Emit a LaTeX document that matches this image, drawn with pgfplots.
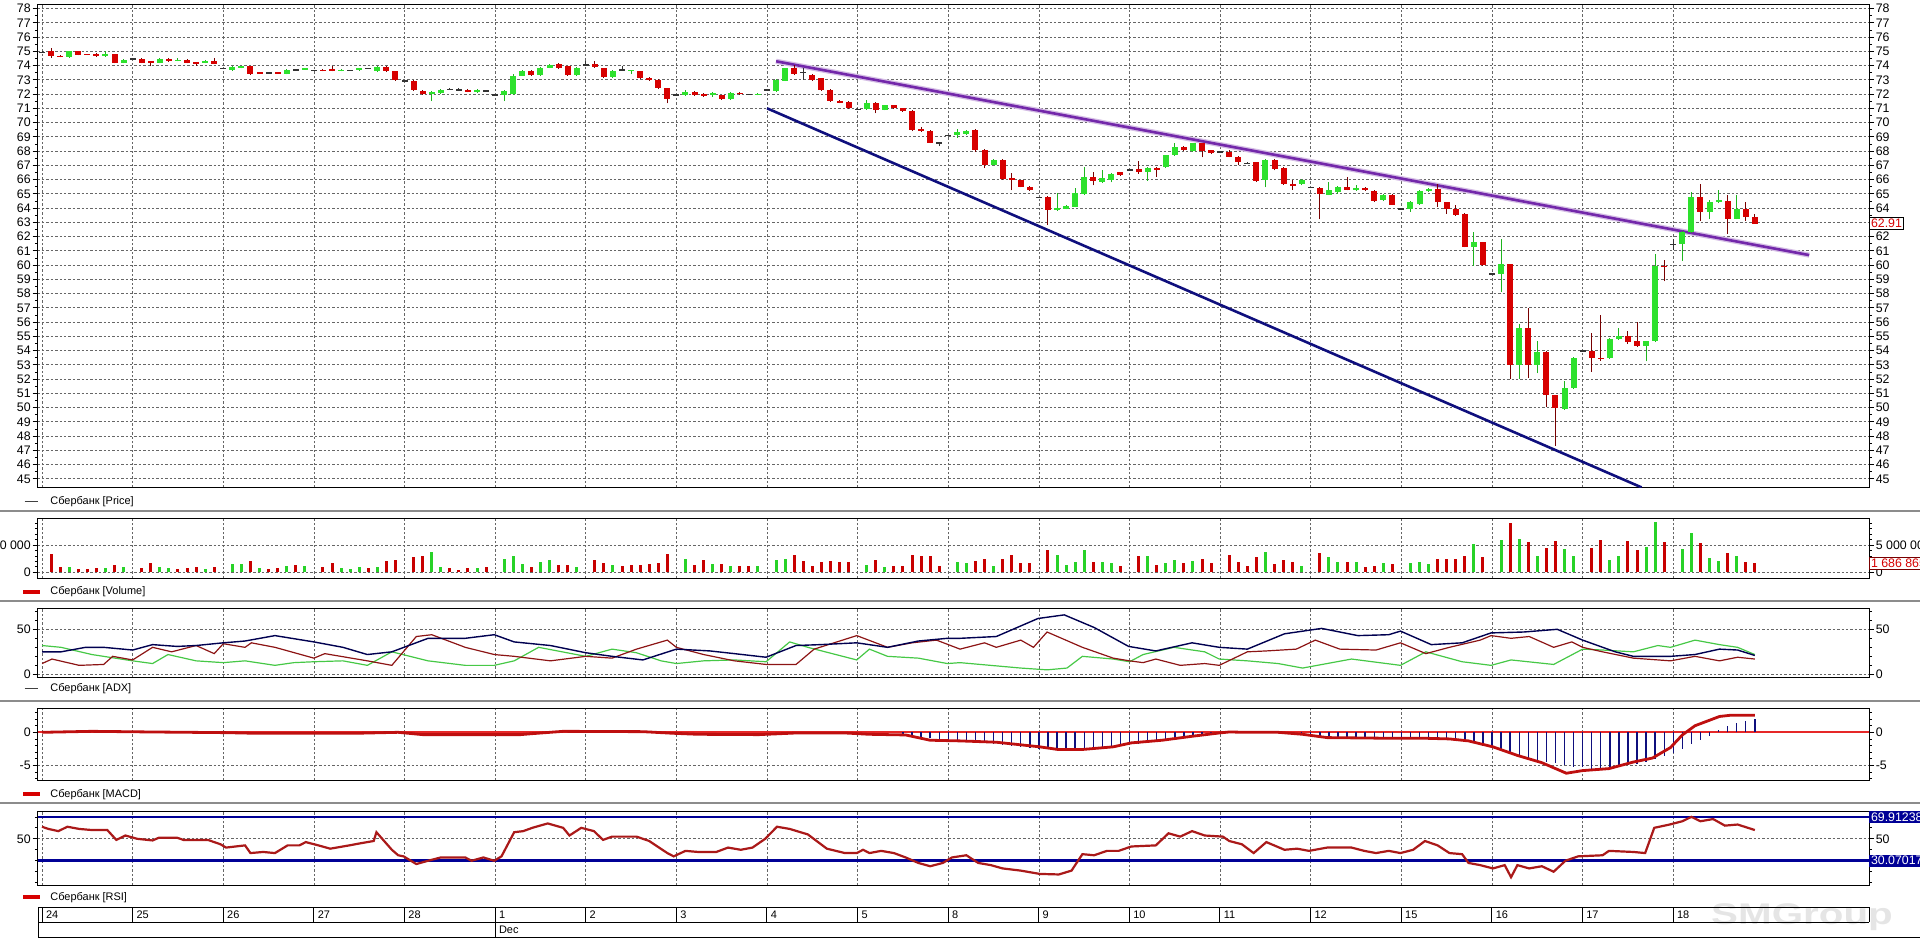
\documentclass[border=0pt]{standalone}
\usepackage{fontspec}
\setmainfont{Liberation Sans}
\usepackage{pgfplots}
\usepackage{pgfplotstable}
\pgfplotsset{compat=1.18}

\definecolor{cup}{RGB}{45,225,45}
\definecolor{cupw}{RGB}{30,180,30}
\definecolor{cdn}{RGB}{215,0,0}
\definecolor{cdnw}{RGB}{120,0,0}
\definecolor{navyl}{RGB}{15,15,125}
\definecolor{purp}{RGB}{115,40,170}
\definecolor{adxb}{RGB}{0,0,80}
\definecolor{adxr}{RGB}{140,20,20}
\definecolor{adxg}{RGB}{70,200,70}
\definecolor{macdr}{RGB}{190,15,15}
\definecolor{zeror}{RGB}{230,40,40}
\definecolor{rsir}{RGB}{170,25,25}
\definecolor{rsib}{RGB}{0,0,150}
\definecolor{vred}{RGB}{200,0,0}
\definecolor{vgrn}{RGB}{40,210,40}

\newcommand\tickfont{\fontsize{6.2}{7}\selectfont}
\newcommand\labfont{\fontsize{5.5}{6.5}\selectfont}

\pgfplotstableread{
i o h l c
3 74.60 75.05 74.55 75.00
7 74.65 75.00 74.60 74.82
9 74.20 74.45 74.15 74.42
13 74.20 74.50 74.15 74.47
15 74.35 74.50 74.30 74.42
18 74.20 74.40 74.15 74.35
21 73.70 73.95 73.65 73.88
22 73.85 74.00 73.80 73.95
27 73.40 73.75 73.38 73.70
29 73.72 73.85 73.70 73.82
33 73.62 73.75 73.60 73.72
35 73.68 73.85 73.65 73.82
37 73.60 73.95 73.58 73.90
43 72.00 72.20 71.50 72.15
44 72.06 72.35 72.00 72.30
48 72.15 72.35 72.10 72.32
51 71.95 72.30 71.50 72.20
52 72.00 73.40 71.95 73.30
53 73.30 73.70 73.25 73.60
55 73.35 73.90 73.30 73.85
56 73.85 74.10 73.80 74.05
59 73.35 73.90 73.25 73.85
63 73.20 73.70 73.15 73.65
65 73.62 73.72 73.40 73.70
71 71.95 72.25 71.85 72.15
74 71.90 72.15 71.80 72.05
76 71.65 72.15 71.60 72.10
79 71.95 72.05 71.90 72.02
81 72.20 73.05 72.15 73.00
82 72.95 73.85 72.90 73.80
91 70.95 71.60 70.90 71.40
93 70.90 71.25 70.85 71.20
101 69.15 69.55 68.95 69.35
102 69.20 69.45 69.15 69.40
105 67.05 67.45 67.00 67.40
112 63.85 65.05 63.80 64.00
113 63.95 64.25 63.90 64.15
114 64.10 65.40 64.05 65.05
115 65.00 66.90 64.95 66.20
117 65.80 66.70 65.75 66.10
118 66.00 66.45 65.80 66.40
122 66.50 66.85 65.90 66.80
124 66.85 67.75 66.80 67.70
125 67.70 68.55 67.65 68.25
127 68.00 68.60 67.95 68.55
135 65.95 67.45 65.45 67.40
139 65.70 66.05 65.60 66.00
142 64.95 65.85 64.90 65.25
143 65.15 65.55 65.00 65.50
145 65.30 65.60 65.20 65.42
148 64.55 65.00 64.50 64.95
151 63.95 64.50 63.75 64.40
152 64.30 65.25 64.25 65.20
153 65.20 65.40 65.15 65.35
158 61.30 62.30 59.95 61.60
161 59.40 61.80 58.10 60.05
163 53.00 55.90 52.00 55.60
165 53.00 54.70 52.40 53.90
168 49.90 51.90 49.85 51.40
169 51.35 53.55 51.30 53.50
173 53.45 54.90 53.40 54.80
174 54.80 55.60 54.75 55.05
177 54.30 54.70 53.25 54.65
178 54.65 60.80 54.60 59.95
181 61.45 62.40 60.30 62.30
182 62.30 65.15 62.25 64.75
184 63.75 64.60 63.20 64.40
185 64.40 65.25 64.35 64.55
187 63.25 64.95 63.20 63.95
}\tup

\pgfplotstableread{
i o h l c
1 75.00 75.20 74.55 74.65
2 74.70 74.72 74.58 74.60
4 75.00 75.05 74.72 74.75
5 74.80 74.82 74.74 74.76
6 74.80 74.85 74.60 74.65
8 74.78 74.80 74.15 74.20
11 74.45 74.50 74.15 74.20
12 74.27 74.30 73.95 74.23
14 74.45 74.50 74.28 74.30
16 74.42 74.45 74.15 74.20
17 74.22 74.25 73.98 74.18
19 74.35 74.55 74.10 74.12
23 73.95 74.00 73.35 73.40
24 73.52 73.55 73.45 73.48
26 73.52 73.55 73.42 73.45
31 73.72 73.75 73.60 73.62
32 73.75 73.95 73.60 73.62
38 73.90 73.95 73.55 73.60
39 73.60 73.65 72.95 73.00
41 72.95 73.00 72.20 72.25
42 72.25 72.30 71.95 72.00
47 72.32 72.35 72.12 72.15
54 73.65 73.70 73.30 73.35
57 74.10 74.15 73.75 73.80
58 73.95 74.00 73.30 73.35
61 74.10 74.30 73.85 73.90
62 73.80 73.85 73.15 73.20
66 73.60 73.65 73.05 73.10
67 73.15 73.20 72.95 73.00
68 73.00 73.05 72.35 72.40
69 72.40 72.45 71.35 71.65
72 72.15 72.20 71.85 71.90
73 71.97 72.10 71.80 71.93
75 71.90 71.95 71.60 71.65
77 72.10 72.15 71.95 71.98
83 73.80 74.05 73.35 73.40
85 73.35 73.40 72.95 73.00
86 73.10 73.15 72.20 72.25
87 72.30 72.35 71.45 71.50
88 71.50 71.55 71.35 71.38
89 71.45 71.50 70.95 71.00
92 71.40 71.45 70.65 70.90
94 71.20 71.25 70.95 71.00
95 71.00 71.05 70.75 70.80
96 70.80 70.85 69.40 69.45
97 69.55 69.70 69.35 69.40
98 69.40 69.45 68.55 68.60
103 69.50 69.55 67.95 68.10
104 68.10 68.15 66.80 67.05
106 67.40 67.45 66.00 66.05
107 66.10 66.45 65.25 65.95
108 65.95 66.00 65.45 65.50
109 65.50 65.55 65.20 65.25
111 64.80 64.85 62.80 63.85
116 66.20 66.55 65.60 65.90
119 66.50 66.55 66.25 66.30
121 66.75 67.30 66.40 66.50
123 66.78 66.85 66.20 66.65
126 68.30 68.35 68.00 68.05
128 68.55 68.60 67.55 68.00
129 68.05 68.10 67.80 67.85
131 67.90 68.10 67.55 67.60
132 67.60 67.65 67.00 67.20
134 67.20 67.25 65.85 65.90
136 67.40 67.45 66.65 66.75
137 66.80 66.85 65.65 65.70
138 65.70 66.00 65.30 65.55
141 65.40 65.45 63.20 65.00
144 65.50 66.20 65.25 65.30
146 65.40 65.45 65.20 65.25
147 65.20 65.25 64.45 64.50
149 64.95 65.00 64.20 64.25
154 65.35 65.70 64.10 64.40
155 64.40 64.45 63.60 63.95
156 63.95 64.20 63.45 63.50
157 63.60 63.65 61.25 61.30
159 61.60 61.65 59.95 60.00
162 60.05 60.10 52.00 53.00
164 55.60 57.00 52.10 53.00
166 53.90 53.95 50.05 50.85
167 50.85 50.90 47.30 50.00
171 54.00 55.25 52.50 53.45
172 53.50 56.50 53.30 53.40
175 55.05 55.35 54.45 54.60
176 54.65 56.00 54.25 54.30
179 59.95 60.35 58.85 59.85
183 64.75 65.70 63.10 63.75
186 64.50 64.90 62.20 63.25
188 63.95 64.40 63.10 63.40
189 63.40 63.60 62.90 62.91
}\tdown

\pgfplotstableread{
i o h l c
0 74.95 75.00 74.90 74.95
10 74.47 74.52 74.42 74.47
20 73.80 73.85 73.75 73.80
25 73.50 73.55 73.45 73.50
28 73.70 73.75 73.65 73.70
30 73.67 73.72 73.62 73.67
34 73.68 73.72 73.64 73.68
36 73.82 73.86 73.78 73.82
40 72.95 73.00 72.90 72.95
45 72.35 72.40 72.30 72.35
46 72.30 72.40 72.20 72.30
49 72.25 72.30 72.20 72.25
50 71.95 72.00 71.90 71.95
60 74.05 74.30 74.00 74.05
64 73.70 74.00 73.65 73.70
70 71.95 72.00 71.90 71.95
78 71.98 72.02 71.94 71.98
80 72.30 72.35 72.25 72.30
84 73.55 73.80 73.00 73.55
90 70.95 71.00 70.90 70.95
99 68.60 68.65 68.35 68.60
100 69.10 69.15 69.05 69.10
110 64.75 64.80 64.70 64.75
120 66.70 66.75 66.65 66.70
130 67.95 68.00 67.90 67.95
133 67.15 67.20 67.10 67.15
140 65.45 65.50 65.40 65.45
150 63.95 64.00 63.90 63.95
160 59.40 59.45 59.35 59.40
170 54.00 54.05 53.95 54.00
180 61.45 61.85 61.05 61.45
}\tdoji

\pgfplotstableread{
i v
1 3.3
2 1.0
4 0.55
5 0.55
6 0.7
8 1.35
11 0.7
12 1.65
15 0.6
16 0.7
17 0.9
19 1.05
23 2.1
25 0.6
26 0.75
28 1.35
31 0.9
32 1.65
36 0.75
38 2.1
39 2.3
41 2.75
42 2.9
45 0.75
46 0.5
47 0.75
49 0.9
54 0.9
57 1.35
58 1.35
61 2.25
62 1.65
64 1.1
65 1.35
66 1.35
67 1.5
68 1.65
69 3.35
72 1.35
73 2.25
75 1.5
77 1.1
78 1.2
83 3.2
84 2.1
85 1.2
86 1.95
87 2.0
88 1.8
89 1.8
92 2.25
94 1.1
95 1.1
96 3.2
97 2.9
98 2.9
99 1.2
103 2.1
104 2.45
106 2.45
107 3.25
108 1.7
109 1.65
111 4.1
116 1.8
119 1.2
121 3.05
123 1.35
126 1.7
128 2.45
129 1.7
131 3.2
132 1.95
133 1.2
134 2.75
136 1.5
137 2.25
138 1.95
141 3.5
144 1.8
146 0.9
147 1.2
149 1.5
154 2.45
155 2.45
156 2.45
157 3.05
159 2.75
162 9.0
164 5.5
166 4.4
167 5.8
171 4.4
172 5.9
175 5.7
176 4.0
179 5.6
183 5.4
186 3.55
188 1.85
189 1.69
}\vdown

\pgfplotstableread{
i v
3 1.0
7 0.85
9 0.9
13 0.9
14 0.75
18 0.6
21 1.5
22 1.5
24 0.75
27 1.2
29 1.1
33 0.75
34 0.6
35 0.9
37 1.05
43 3.8
44 0.9
48 0.75
51 2.45
52 3.05
53 1.5
55 1.8
56 2.25
59 0.9
63 1.35
71 2.45
74 1.5
76 1.2
79 1.1
81 2.25
82 2.45
91 1.35
93 0.9
101 1.8
102 1.7
105 1.2
112 3.2
113 1.35
114 1.95
115 4.0
117 1.8
118 1.7
122 3.05
124 1.7
125 2.25
127 2.1
135 3.7
139 1.2
142 2.75
143 1.95
145 1.8
148 1.65
151 1.65
152 1.8
153 1.5
158 5.2
161 5.9
163 6.1
165 3.05
168 4.3
169 3.05
173 2.25
174 3.05
177 4.6
178 9.15
181 4.3
182 7.2
184 2.55
185 2.1
187 2.9
}\vup

\pgfplotstableread{
i h
95 -0.3
96 -0.5
97 -0.7
98 -0.9
99 -1.0
100 -1.1
101 -1.3
102 -1.4
103 -1.5
104 -1.6
105 -1.7
106 -1.9
107 -2.0
108 -2.2
109 -2.3
110 -2.5
111 -2.6
112 -2.7
113 -2.7
114 -2.6
115 -2.5
116 -2.4
117 -2.3
118 -2.2
119 -2.0
120 -1.8
121 -1.7
122 -1.5
123 -1.3
124 -1.2
125 -1.0
126 -0.8
127 -0.6
128 -0.5
129 -0.3
130 -0.2
131 0.1
132 0.05
139 -0.2
140 -0.35
141 -0.5
142 -0.6
143 -0.7
144 -0.8
145 -0.8
146 -0.8
147 -0.8
148 -0.8
149 -0.9
150 -0.9
151 -0.9
152 -0.9
153 -0.9
154 -0.9
155 -0.9
156 -1.0
157 -1.2
158 -1.6
159 -2.0
160 -2.3
161 -2.7
162 -3.2
163 -3.6
164 -4.0
165 -4.3
166 -4.5
167 -4.7
168 -4.9
169 -5.2
170 -5.3
171 -5.5
172 -5.6
173 -5.4
174 -5.2
175 -5.0
176 -4.8
177 -4.5
178 -4.1
179 -3.6
180 -3.2
181 -2.5
182 -1.8
183 -1.2
184 -0.5
185 0.3
186 1.0
187 1.4
188 1.7
189 2.0
}\thist

\pgfplotsset{
  /pgf/number format/assume math mode=true,
  panel/.style={
    scale only axis, width=915.75bp, xmin=-0.5, xmax=201.6,
    anchor=south west,
    axis line style={line width=0.5bp},
    xtick={0,10,...,180}, xticklabels={},
    every major x tick/.append style={draw=none},
    xmajorgrids, ymajorgrids,
    grid style={dash pattern=on 1.2bp off 1bp, black!60, line width=0.35bp},
    tick align=outside, ytick pos=left, xtick pos=left,
    major tick length=2.5bp, minor tick length=1.3bp,
    tick style={black, line width=0.35bp},
    yticklabel style={font=\tickfont, inner sep=0.7bp},
  },
  rightlab/.style={
    scale only axis, width=915.75bp, xmin=-0.5, xmax=201.6,
    anchor=south west,
    hide x axis, axis y line*=right, axis line style={draw=none},
    tick align=outside,
    major tick length=2.5bp, minor tick length=1.3bp,
    tick style={black, line width=0.35bp},
    yticklabel style={font=\tickfont, inner sep=0.7bp},
    clip=false,
  },
}

\begin{document}
\begin{tikzpicture}
\path[use as bounding box] (0,0) rectangle (960bp,470bp);

% watermark
\node[text=black!10, font=\fontsize{15}{15}\selectfont\bfseries, xscale=1.35] at (901bp,11.3bp) {SMGroup};

% separators
\foreach \yy in {214.5,169.5,119.5,68.5}{
  \draw[black!45, line width=1bp] (0,\yy bp) -- (960bp,\yy bp);
}

% ================= PRICE =================
\begin{axis}[panel, at={(18.75bp,226.3bp)}, height=241.2bp,
  ymin=44.4, ymax=78.25, ytick={45,...,78}, minor y tick num=1]
  \addplot[purp!30, line width=2.6bp] coordinates {(81,74.3) (195,60.7)};
  \addplot[purp, line width=1.3bp] coordinates {(81,74.3) (195,60.7)};
  \addplot[navyl, line width=1.3bp] coordinates {(80,71.0) (176.5,44.4)};
  % wicks
  \addplot[draw=none, mark=none, error bars/.cd, y dir=plus, y explicit, error mark=none,
    error bar style={draw=cdnw, line width=0.5bp}]
    table[x=i, y=l, y error expr=\thisrow{h}-\thisrow{l}] \tdown;
  \addplot[draw=none, mark=none, error bars/.cd, y dir=plus, y explicit, error mark=none,
    error bar style={draw=cupw, line width=0.5bp}]
    table[x=i, y=l, y error expr=\thisrow{h}-\thisrow{l}] \tup;
  \addplot[draw=none, mark=none, error bars/.cd, y dir=plus, y explicit, error mark=none,
    error bar style={draw=black!80, line width=0.5bp}]
    table[x=i, y=l, y error expr=\thisrow{h}-\thisrow{l}] \tdoji;
  % bodies
  \addplot[draw=none, mark=none, error bars/.cd, y dir=both, y explicit, error mark=none,
    error bar style={draw=cdn, line width=3bp}]
    table[x=i, y expr=(\thisrow{o}+\thisrow{c})/2, y error expr={max(abs(\thisrow{o}-\thisrow{c})/2,0.035)}] \tdown;
  \addplot[draw=none, mark=none, error bars/.cd, y dir=both, y explicit, error mark=none,
    error bar style={draw=cup, line width=3bp}]
    table[x=i, y expr=(\thisrow{o}+\thisrow{c})/2, y error expr={max(abs(\thisrow{o}-\thisrow{c})/2,0.035)}] \tup;
  \addplot[draw=none, mark=none, error bars/.cd, y dir=both, y explicit, error mark=none,
    error bar style={draw=black!80, line width=3bp}]
    table[x=i, y expr=(\thisrow{o}+\thisrow{c})/2, y error expr={0.03}] \tdoji;
\end{axis}
\begin{axis}[rightlab, at={(18.75bp,226.3bp)}, height=241.2bp,
  ymin=44.4, ymax=78.25, ytick={45,...,78}, minor y tick num=1]
  \node[anchor=west, draw=black, fill=white, text=cdn, font=\tickfont, inner sep=0.8bp, line width=0.4bp]
    at (axis cs:201.6,62.91) {62.91};
\end{axis}
\draw[black!75, line width=0.6bp] (12.25bp,219.15bp) -- (19bp,219.15bp);
\node[anchor=west, font=\labfont, inner sep=0] at (25bp,219.15bp) {Сбербанк [Price]};

% ================= VOLUME =================
\begin{axis}[panel, at={(18.75bp,180.85bp)}, height=30bp,
  ymin=-1.1, ymax=9.89, ytick={0,5}, yticklabels={0,5 000 000},
  minor ytick={1,2,3,4,6,7,8,9}]
  \addplot[ycomb, vred, line width=1.5bp, mark=none] table[x=i, y=v] \vdown;
  \addplot[ycomb, vgrn, line width=1.5bp, mark=none] table[x=i, y=v] \vup;
\end{axis}
\begin{axis}[rightlab, at={(18.75bp,180.85bp)}, height=30bp,
  ymin=-1.1, ymax=9.89, ytick={0,5}, yticklabels={0,5 000 000},
  minor ytick={1,2,3,4,6,7,8,9}]
  \node[anchor=west, draw=cdnw, fill=white, text=cdn, font=\tickfont, inner sep=0.8bp, line width=0.4bp]
    at (axis cs:201.6,1.686865) {1 686 865};
\end{axis}
\draw[cdn, line width=2bp] (11.6bp,174.15bp) -- (19.9bp,174.15bp);
\node[anchor=west, font=\labfont, inner sep=0] at (25bp,174.15bp) {Сбербанк [Volume]};

% ================= ADX =================
\begin{axis}[panel, at={(18.75bp,131.15bp)}, height=34.7bp,
  ymin=-3.7, ymax=73.3, ytick={0,50}, minor ytick={10,20,30,40,60,70}]
  \addplot[adxg, line width=0.6bp, mark=none] coordinates {
(0,32) (2.1,30) (5.5,22) (10,15) (12.2,12) (13.9,22) (17,15) (20,13) (22.4,15) (25.7,10) (27.8,13) (30,14) (33.2,15) (35.9,10) (38.6,25) (42.6,15) (46.7,10) (49.9,10) (52.1,15) (54.8,30) (60,20) (62.9,28) (65.6,24) (68.3,15) (70,12) (73,15) (76.4,16) (79.9,14) (82.5,36) (84.5,30) (89.9,16) (91.3,28) (93.3,20) (96.7,18) (99.9,12) (101.3,13) (108,7) (110.9,5) (113.1,7) (114.8,20) (118.2,17) (120,14) (121.5,22) (124.9,30) (128.3,25) (129.9,17) (133,15) (136.4,12) (139.1,7) (141.8,12) (144.5,17) (149.9,10) (152.7,25) (156.7,14) (159.9,10) (162.1,16) (166.8,11) (170,28) (172.2,27) (175.6,25) (178.3,32) (179.7,30) (182.4,38) (185.1,33) (187.1,30) (189,22)};
  \addplot[adxr, line width=0.6bp, mark=none] coordinates {
(0,12) (1.1,17) (4.1,10) (6.8,11) (7.8,20) (10,16) (12.2,30) (14.3,25) (17,32) (19,23) (20,34) (22.4,30) (23.1,35) (25.7,30) (30,18) (31.2,23) (35.9,15) (38.6,10) (41.3,42) (43,44) (46.7,30) (49.9,22) (52.1,20) (56.1,15) (60,20) (62.9,18) (65.6,28) (69,38) (70,30) (73,22) (76.4,15) (79.9,11) (83.2,11) (85.2,28) (89.9,43) (93.3,30) (96,35) (98.7,38) (101.3,28) (104,35) (105.3,30) (108,38) (109.4,30) (110.9,47) (114.8,30) (118.2,18) (120,15) (121.5,13) (122.9,17) (125.6,10) (128.3,12) (129.9,10) (133,25) (135.1,26) (138.4,28) (140.5,38) (143.2,28) (147.2,27) (149.9,35) (152.7,23) (155.3,30) (158.7,38) (159.9,43) (162.1,40) (164.1,42) (166.8,30) (168.8,36) (170,30) (172.2,25) (175.6,18) (179.7,15) (182.4,20) (185.1,15) (187.1,19) (189,17)};
  \addplot[adxb, line width=0.7bp, mark=none] coordinates {
(0,25) (2.1,25) (4.8,30) (6.8,30) (10,27) (12.2,33) (14.9,31) (17,32) (20,35) (22.4,37) (25.7,43) (30,36) (33.2,30) (35.9,22) (38.6,25) (42.6,40) (46.7,40) (49.9,44) (52.1,36) (56.1,32) (60,24) (62.9,20) (66.3,16) (70,28) (73.7,26) (76.4,23) (79.9,19) (83.2,32) (85.9,33) (89.9,35) (93.3,30) (96.7,37) (99.9,40) (101.3,40) (105.3,42) (109.9,62) (112.8,66) (116.1,52) (119.9,31) (122.9,26) (126.9,35) (129.9,30) (133,28) (137.1,45) (141.2,51) (145.2,43) (148.6,44) (149.9,48) (153.3,33) (156.7,35) (159.9,46) (163.5,47) (167.2,50) (170,38) (173.6,25) (175.6,20) (179.7,20) (182.4,22) (185.1,28) (187.1,27) (189,21)};
\end{axis}
\begin{axis}[rightlab, at={(18.75bp,131.15bp)}, height=34.7bp,
  ymin=-3.7, ymax=73.3, ytick={0,50}, minor ytick={10,20,30,40,60,70}]
\end{axis}
\draw[black!75, line width=0.6bp] (12.25bp,125.85bp) -- (19bp,125.85bp);
\node[anchor=west, font=\labfont, inner sep=0] at (25bp,125.85bp) {Сбербанк [ADX]};

% ================= MACD =================
\begin{axis}[panel, at={(18.75bp,79.65bp)}, height=36.2bp,
  ymin=-7.33, ymax=3.64, ytick={-5,0}, yticklabels={-5,0},
  minor ytick={-7,-6,-4,-3,-2,-1,1,2,3}]
  \addplot[zeror, line width=1bp, mark=none] coordinates {(-0.5,0) (201.6,0)};
  \addplot[ycomb, navyl, line width=0.7bp, mark=none] table[x=i, y=h] \thist;
  \addplot[macdr, line width=1.4bp, mark=none] coordinates {
(0,0) (5.5,0.15) (12.2,0.05) (20.3,-0.05) (23.7,-0.15) (34.5,-0.15) (39.3,0) (42,-0.35) (52.8,-0.35) (54.1,-0.2) (57.5,0.15) (66.3,0.1) (69.7,-0.15) (72.4,-0.3) (79.1,-0.35) (83.2,-0.1) (88.6,-0.1) (91.3,-0.3) (95.3,-0.4) (98,-1.2) (101.3,-1.3) (105.3,-1.5) (110.1,-2.2) (112.1,-2.6) (114.8,-2.6) (118.2,-2.2) (120.2,-1.6) (123.6,-1.2) (126.9,-0.6) (129.9,-0.1) (131,0.05) (133,0) (136.4,0) (139.1,-0.3) (141.8,-0.8) (148.6,-0.9) (152.6,-0.9) (155.3,-1.0) (157.4,-1.3) (160.1,-2.2) (162.8,-3.5) (165.5,-4.6) (168.2,-6.2) (170,-5.8) (172.9,-5.5) (175.6,-4.5) (177.7,-3.9) (179.7,-2.3) (181,-0.4) (182.4,1.0) (185.1,2.4) (186.4,2.6) (189,2.6)};
\end{axis}
\begin{axis}[rightlab, at={(18.75bp,79.65bp)}, height=36.2bp,
  ymin=-7.33, ymax=3.64, ytick={-5,0}, yticklabels={-5,0},
  minor ytick={-7,-6,-4,-3,-2,-1,1,2,3}]
\end{axis}
\draw[cdn, line width=2bp] (11.6bp,72.85bp) -- (19.9bp,72.85bp);
\node[anchor=west, font=\labfont, inner sep=0] at (25bp,72.85bp) {Сбербанк [MACD]};

% ================= RSI =================
\begin{axis}[panel, at={(18.75bp,27.5bp)}, height=36.65bp,
  ymin=7.9, ymax=74.7, ytick={50}, minor ytick={10,20,30,40,60,70}]
  \addplot[rsib, line width=1.2bp, mark=none] coordinates {(-0.5,69.91238) (201.6,69.91238)};
  \addplot[rsib, line width=1.2bp, mark=none] coordinates {(-0.5,30.07017) (201.6,30.07017)};
  \addplot[rsir, line width=1.1bp, mark=none] coordinates {
(0,61) (0.7,59) (1.8,57) (2.8,61) (4.1,59) (5.5,58) (7.2,58) (8.2,49) (9.2,53) (10.5,50) (12.2,48.5) (12.9,51) (14.9,51) (15.6,49) (18.3,49) (19.7,45) (20.3,42) (22.4,44) (23,37) (24.4,38) (25.7,37) (27.1,44) (28.4,44) (29.1,47) (30.5,44) (31.8,41) (33.9,44) (35.2,46) (36.6,48) (36.9,56) (38.6,40) (39.3,35) (39.9,34) (41.3,27) (42.6,30) (44,33) (46.7,33) (47.4,30) (48.7,33) (49.9,30) (50.7,34) (52.1,56) (53.1,57) (54.1,60) (55.8,64) (57.5,60) (58.2,53) (59.5,60) (60.9,57) (61.9,49) (62.9,52) (65.6,52) (67,48) (69,37) (69.7,34) (71,39) (72.4,38) (74.4,38) (75.7,42) (77.1,40) (78.4,42) (79.8,50) (81.1,61) (82.5,59) (84.5,54) (86.6,41) (88.6,37) (89.9,37) (90.6,40) (91.3,37) (92.6,39) (94,37) (95.3,33) (96.7,28) (98,25) (99.4,28) (100.4,33) (102,35) (103.3,28) (104.7,26) (106,23) (108,21) (110.1,18) (112.2,17.5) (113.6,21) (114.8,36) (116.1,35) (117.5,39) (118.8,39) (120.2,43) (122.9,44) (124.3,55) (125.6,52) (126.9,57) (128.3,53) (130.3,52) (131,48) (132.4,45) (133.7,37) (135.1,47) (137.1,40) (138.5,41) (139.8,39) (141.8,42) (144.5,42) (145.9,39) (147.2,37) (148.6,39) (149.9,37) (151.3,40) (152.6,48) (154,44) (155.3,37) (156.7,36) (157.4,28) (158.7,26) (160.1,23) (161.4,26) (162.1,15) (162.8,26) (164.1,23) (165.5,25) (166.8,20) (168.1,30) (169.5,34) (172.2,35) (172.9,39) (175.6,38) (176.9,37) (177.9,60) (179.6,63) (181,66) (182,70) (183,66) (184.4,68) (185.7,62) (187.1,63) (189,58)};
\end{axis}
\begin{axis}[rightlab, at={(18.75bp,27.5bp)}, height=36.65bp,
  ymin=7.9, ymax=74.7, ytick={50}, minor ytick={10,20,30,40,60,70}]
  \node[anchor=west, fill=rsib, text=white, font=\tickfont, inner sep=0.8bp]
    at (axis cs:201.6,69.91238) {69.91238};
  \node[anchor=west, fill=rsib, text=white, font=\tickfont, inner sep=0.8bp]
    at (axis cs:201.6,30.07017) {30.07017};
\end{axis}
\draw[cdn, line width=2bp] (11.6bp,21.35bp) -- (19.9bp,21.35bp);
\node[anchor=west, font=\labfont, inner sep=0] at (25bp,21.35bp) {Сбербанк [RSI]};

% ================= DATE AXIS =================
\draw[line width=0.5bp] (19bp,16.35bp) -- (934.5bp,16.35bp);
\draw[line width=0.5bp] (19bp,8.85bp) -- (934.5bp,8.85bp);
\draw[line width=0.5bp] (19bp,1.35bp) -- (960bp,1.35bp);
\draw[line width=0.5bp] (19bp,16.35bp) -- (19bp,1.35bp);
\draw[line width=0.5bp] (934.5bp,16.35bp) -- (934.5bp,8.85bp);
\foreach \d/\lab in {0/24,1/25,2/26,3/27,4/28,5/1,6/2,7/3,8/4,9/5,10/8,11/9,12/10,13/11,14/12,15/15,16/16,17/17,18/18}{
  \pgfmathsetmacro\xx{21+45.305*\d}
  \draw[line width=0.5bp] (\xx bp,16.35bp) -- (\xx bp,8.85bp);
  \node[anchor=west, font=\labfont, inner sep=0] at (\xx bp+1.8bp,12.6bp) {\lab};
}
\draw[line width=0.5bp] (247.5bp,8.85bp) -- (247.5bp,1.35bp);
\node[anchor=west, font=\labfont, inner sep=0] at (249.3bp,5.1bp) {Dec};
\end{tikzpicture}
\end{document}
